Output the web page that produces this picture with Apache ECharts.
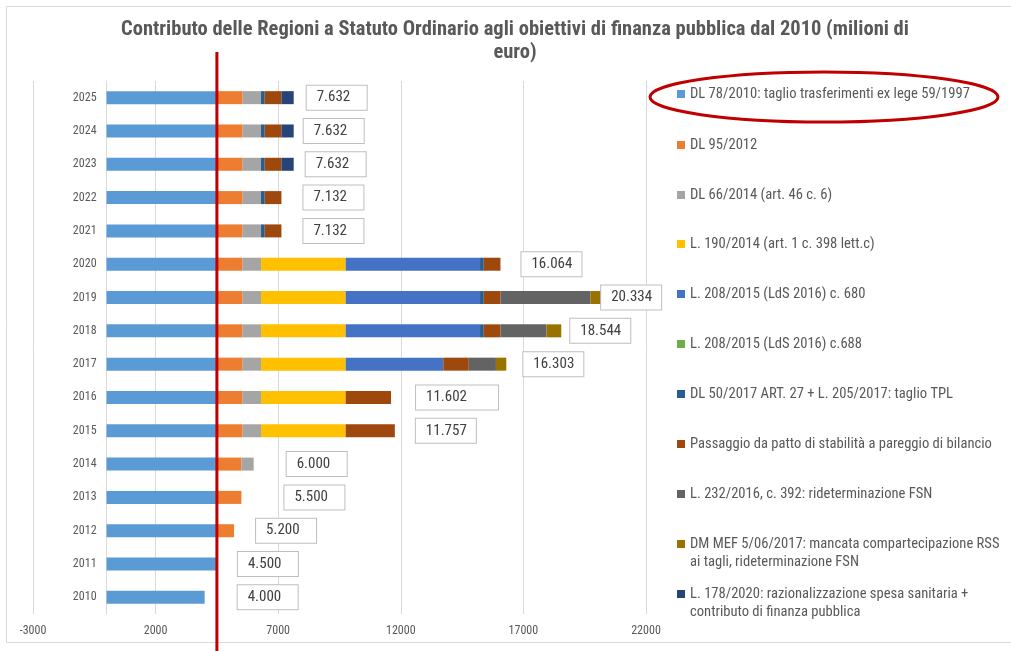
<!DOCTYPE html>
<html>
<head>
<meta charset="utf-8">
<title>Contributo RSO</title>
<script src="https://cdn.jsdelivr.net/npm/echarts@6/dist/echarts.min.js"></script>
<style>
  html, body { margin: 0; padding: 0; background: #fff; }
  #chart { width: 1011px; height: 651px; }
</style>
</head>
<body>
<div id="chart"></div>
<script>
// anni (asse categorie, dal basso verso l'alto)
const years = ['2010', '2011', '2012', '2013', '2014', '2015', '2016', '2017',
               '2018', '2019', '2020', '2021', '2022', '2023', '2024', '2025'];

// valori in milioni di euro
const dl78    = [4000, 4500, 4500, 4500, 4500, 4500, 4500, 4500, 4500, 4500, 4500, 4500, 4500, 4500, 4500, 4500];
const dl95    = [0, 0, 700, 1000, 1000, 1050, 1050, 1050, 1050, 1050, 1050, 1050, 1050, 1050, 1050, 1050];
const dl66    = [0, 0, 0, 0, 500, 750, 750, 750, 750, 750, 750, 750, 750, 750, 750, 750];
const l190    = [0, 0, 0, 0, 0, 3452, 3452, 3452, 3452, 3452, 3452, 0, 0, 0, 0, 0];
const c680    = [0, 0, 0, 0, 0, 0, 0, 3980, 5480, 5480, 5480, 0, 0, 0, 0, 0];
const c688    = [0, 0, 0, 0, 0, 0, 0, 0, 0, 0, 0, 0, 0, 0, 0, 0];
const tpl     = [0, 0, 0, 0, 0, 0, 0, 0, 150, 150, 150, 150, 150, 150, 150, 150];
const pareggio = [0, 0, 0, 0, 0, 2005, 1850, 1040, 682, 682, 682, 682, 682, 682, 682, 682];
const l232    = [0, 0, 0, 0, 0, 0, 0, 1108, 1876, 3666, 0, 0, 0, 0, 0, 0];
const dmMef   = [0, 0, 0, 0, 0, 0, 0, 423, 604, 604, 0, 0, 0, 0, 0, 0];
const l178    = [0, 0, 0, 0, 0, 0, 0, 0, 0, 0, 0, 0, 0, 500, 500, 500];

// totali mostrati nelle etichette
const totals = [4000, 4500, 5200, 5500, 6000, 11757, 11602, 16303,
                18544, 20334, 16064, 7132, 7132, 7632, 7632, 7632];

const xTicks = { min: -3000, max: 22000, interval: 5000 };
const redLineAt = 4500; // linea rossa di evidenziazione

const FONT = "'Liberation Sans Narrow', 'Arial Narrow', 'Roboto Condensed', 'Liberation Sans', sans-serif";
const GREY_TXT = '#595959';

const seriesDefs = [
  { name: 'DL 78/2010: taglio trasferimenti ex lege 59/1997', data: dl78, color: '#5b9bd5' },
  { name: 'DL 95/2012', data: dl95, color: '#ed7d31' },
  { name: 'DL 66/2014 (art. 46 c. 6)', data: dl66, color: '#a5a5a5' },
  { name: 'L. 190/2014 (art. 1 c. 398 lett.c)', data: l190, color: '#ffc000' },
  { name: 'L. 208/2015 (LdS 2016) c. 680', data: c680, color: '#4472c4' },
  { name: 'L. 208/2015 (LdS 2016) c.688', data: c688, color: '#70ad47' },
  { name: 'DL 50/2017 ART. 27 + L. 205/2017: taglio TPL', data: tpl, color: '#255e91' },
  { name: 'Passaggio da patto di stabilità a pareggio di bilancio', data: pareggio, color: '#9e480e' },
  { name: 'L. 232/2016, c. 392: rideterminazione FSN', data: l232, color: '#636363' },
  { name: 'DM MEF 5/06/2017: mancata compartecipazione RSS ai tagli, rideterminazione FSN', data: dmMef, color: '#997300' },
  { name: 'L. 178/2020: razionalizzazione spesa sanitaria + contributo di finanza pubblica', data: l178, color: '#264478' }
];

// a capo nelle voci lunghe della legenda
const legendBreaks = {
  'DM MEF 5/06/2017: mancata compartecipazione RSS ai tagli, rideterminazione FSN':
    ['DM MEF 5/06/2017: mancata compartecipazione RSS', 'ai tagli, rideterminazione FSN'],
  'L. 178/2020: razionalizzazione spesa sanitaria + contributo di finanza pubblica':
    ['L. 178/2020: razionalizzazione spesa sanitaria +', 'contributo di finanza pubblica']
};

// spostamento delle etichette rispetto alla fine della barra (come nel grafico originale)
const labelGap = [33, 21, 22, 43, 33, 21, 25, 17, 9, -4, 21, 22, 22, 12, 10, 13];
const labelBoxW = [60, 60, 60, 60, 60, 60, 82, 60, 60, 60, 60, 60, 60, 60, 60, 60];

function fmt(v) {
  return String(v).replace(/\B(?=(\d{3})+(?!\d))/g, '.');
}

const GRID = { left: 33, right: 365, top: 81, bottom: 37 };
const plotW = 1011 - GRID.left - GRID.right;
// l'asse delle categorie sta sullo zero della scala dei valori
const yAxisShift = -plotW * (0 - xTicks.min) / (xTicks.max - xTicks.min);

const chart = echarts.init(document.getElementById('chart'), null, { renderer: 'canvas' });

const series = seriesDefs.map(s => ({
  name: s.name,
  type: 'bar',
  stack: 'tot',
  barWidth: 13,
  data: s.data,
  itemStyle: { color: s.color },
  emphasis: { disabled: true }
}));

// serie trasparente solo per le etichette dei totali
series.push({
  name: 'Totale',
  type: 'bar',
  barWidth: 13,
  barGap: '-100%',
  silent: true,
  z: 3,
  itemStyle: { color: 'rgba(0,0,0,0)' },
  data: totals.map((v, i) => ({
    value: v,
    label: { offset: [labelGap[i], 0], width: labelBoxW[i] - 10 }
  })),
  label: {
    show: true,
    position: 'right',
    distance: 0,
    formatter: p => fmt(p.value),
    fontFamily: FONT,
    fontSize: 15,
    lineHeight: 16,
    color: '#404040',
    backgroundColor: '#fff',
    borderColor: '#bfbfbf',
    borderWidth: 1,
    padding: [4, 0, 4, 10],
    align: 'left'
  }
});

// una legenda per voce, per avere la stessa spaziatura dell'originale
const legendCenters = [94, 145, 195, 244, 294, 344, 394, 444, 494, 544, 594];
const LH = 18.5;
const legends = seriesDefs.map((s, i) => {
  const br = legendBreaks[s.name];
  return {
    left: 677,
    top: br ? legendCenters[i] - LH * 1.5 : legendCenters[i] - LH / 2,
    padding: 0,
    itemWidth: 8,
    itemHeight: 8,
    icon: 'rect',
    data: [s.name],
    formatter: name => legendBreaks[name] ? '\n' + legendBreaks[name].join('\n') : name,
    textStyle: { fontFamily: FONT, fontSize: 14.6, lineHeight: LH, color: GREY_TXT }
  };
});

const option = {
  animation: false,
  backgroundColor: '#fff',
  title: {
    text: 'Contributo delle Regioni a Statuto Ordinario agli obiettivi di finanza pubblica dal 2010 (milioni di\neuro)',
    left: 515,
    top: 18,
    padding: 0,
    textAlign: 'center',
    textStyle: {
      fontFamily: FONT,
      fontSize: 20.5,
      fontWeight: 'bold',
      lineHeight: 23,
      color: GREY_TXT
    }
  },
  legend: legends,
  grid: { left: GRID.left, right: GRID.right, top: GRID.top, bottom: GRID.bottom, containLabel: false, outerBoundsMode: 'none' },
  xAxis: {
    type: 'value',
    min: xTicks.min,
    max: xTicks.max,
    interval: xTicks.interval,
    axisLine: { show: false },
    axisTick: { show: false },
    splitLine: { show: true, lineStyle: { color: '#d9d9d9', width: 1 } },
    axisLabel: { fontFamily: FONT, fontSize: 12, color: GREY_TXT, margin: 11, formatter: v => String(v) }
  },
  yAxis: {
    type: 'category',
    data: years,
    position: 'left',
    offset: yAxisShift,
    axisLine: { show: true, onZero: false, lineStyle: { color: '#d9d9d9', width: 1 } },
    axisTick: { show: false },
    splitLine: { show: false },
    axisLabel: { fontFamily: FONT, fontSize: 12, color: GREY_TXT, margin: 10 }
  },
  series: series
};

chart.setOption(option);

// annotazioni: bordo, linea rossa verticale ed ellisse sulla prima voce di legenda
const xRed = chart.convertToPixel({ xAxisIndex: 0 }, redLineAt);
chart.setOption({
  graphic: [
    {
      type: 'rect',
      silent: true,
      z: -1,
      shape: { x: 6.5, y: 6.5, width: 1010, height: 636 },
      style: { fill: 'none', stroke: '#d9d9d9', lineWidth: 1 }
    },
    {
      type: 'line',
      silent: true,
      z: 100,
      shape: { x1: xRed, y1: 52, x2: xRed, y2: 651 },
      style: { stroke: '#c00000', lineWidth: 3 }
    },
    {
      type: 'ellipse',
      silent: true,
      z: 100,
      shape: { cx: 824, cy: 97, rx: 174, ry: 25 },
      style: { fill: 'none', stroke: '#c00000', lineWidth: 3 }
    }
  ]
});

window.addEventListener('resize', () => chart.resize());
</script>
</body>
</html>
